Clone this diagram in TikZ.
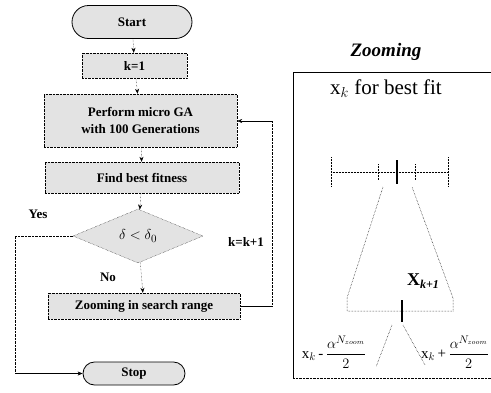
\documentclass[tikz,border=0pt]{standalone}
\usepackage{amsmath}
\usepackage{fontspec}
\setmainfont{Liberation Serif}
\usetikzlibrary{shapes.geometric,shapes.misc,arrows.meta}
\newcommand\flowfont{\fontsize{13}{17}\selectfont\bfseries}
\begin{document}
\begin{tikzpicture}[x=1pt,y=-1pt,
  box/.style={draw, densely dotted, fill=gray!22, inner sep=0pt, font=\flowfont, align=center},
  term/.style={draw, thick, rounded rectangle, fill=gray!22, inner sep=0pt, font=\flowfont},
  dia/.style={draw, densely dotted, diamond, fill=gray!22, inner sep=0pt, font=\flowfont},
  conn/.style={densely dotted, -{Stealth[length=5pt,width=4pt]}},
  lbl/.style={font=\flowfont},
  thin dot/.style={densely dotted, line width=0.5pt},
  formula/.style={font=\fontsize{15}{17}\selectfont, inner sep=0pt},
]
\useasboundingbox (0,0) rectangle (491,392);
% flowchart
\node[term, minimum width=120pt, minimum height=33pt] (start) at (132,22) {Start};
\node[box, minimum width=105pt, minimum height=25pt] (k1) at (134.5,65.5) {k=1};
\node[box, minimum width=193pt, minimum height=53pt] (perform) at (140.5,120.5) {Perform micro GA\\with 100 Generations};
\node[box, minimum width=194pt, minimum height=31pt] (find) at (142,177.5) {Find best fitness};
\node[dia, minimum width=130pt, minimum height=54pt, font=\fontsize{15}{17}\selectfont] (dec) at (138,236) {$\delta<\delta_0$};
\node[box, minimum width=192pt, minimum height=26pt] (zoomb) at (144,306) {Zooming in search range};
\node[term, minimum width=102pt, minimum height=23pt] (stop) at (134,373.5) {Stop};

\node[lbl] (yes) at (38,214) {Yes};
\node[lbl] (no) at (108,277) {No};
\node[lbl] (kk) at (246,242) {k=k+1};

\draw[conn] (start) -- (k1);
\draw[conn] (k1) -- (perform);
\draw[conn] (perform) -- (find);
\draw[conn] (find) -- (dec);
\draw[conn] (dec) -- (zoomb);
\coordinate (yl) at (15,236);
\draw[densely dotted] (dec.west) -- (yl) -- (yl |- stop.west);
\draw[-{Stealth[length=5pt,width=4pt]}] (yl |- stop.west) -- (stop.west);
\coordinate (lb) at (272,306);
\coordinate (lt) at (272,121);
\draw (zoomb.east) -- (lb);
\draw[densely dotted] (lb) -- (lt);
\draw[-{Stealth[length=5pt,width=4pt]}] (lt) -- (perform.east |- lt);

% zooming panel
\node[font=\fontsize{19}{21}\selectfont\bfseries\itshape] (ztitle) at (386,52) {Zooming};
\draw (491,72) -- (293,72) -- (293,378);
\draw[densely dotted] (293,378) -- (491,378);
\node[font=\fontsize{21}{23}\selectfont] (best) at (386,89) {x$_{k}$ for best fit};

\draw[thin dot] (331,172) -- (448,172);
\draw[thin dot] (331,157) -- (331,187);
\draw[thin dot] (448,157) -- (448,187);
\draw[thin dot] (378,164) -- (378,180);
\draw[thin dot] (415,164) -- (415,180);
\draw[line width=2.5pt] (397,160) -- (397,184);

\draw[thin dot] (383,187) -- (347,298) -- (347,311) -- (453,311) -- (453,298) -- (412,187);
\draw[line width=2.5pt] (402,300) -- (402,322);
\node[font=\fontsize{18}{20}\selectfont\bfseries] (xk1) at (423,281) {X\raisebox{-0.35ex}{\fontsize{12}{13}\selectfont\itshape k+1}};
\draw[thin dot] (392,325) -- (376,367);
\draw[thin dot] (403,325) -- (425,365);

\node[formula] (fl) at (334,352) {x$_{k}$\,-\,$\dfrac{\alpha^{N_{zoom}}}{2}$};
\node[formula] (fr) at (455,352) {x$_{k}$\,+\,$\dfrac{\alpha^{N_{zoom}}}{2}$};
\end{tikzpicture}
\end{document}
